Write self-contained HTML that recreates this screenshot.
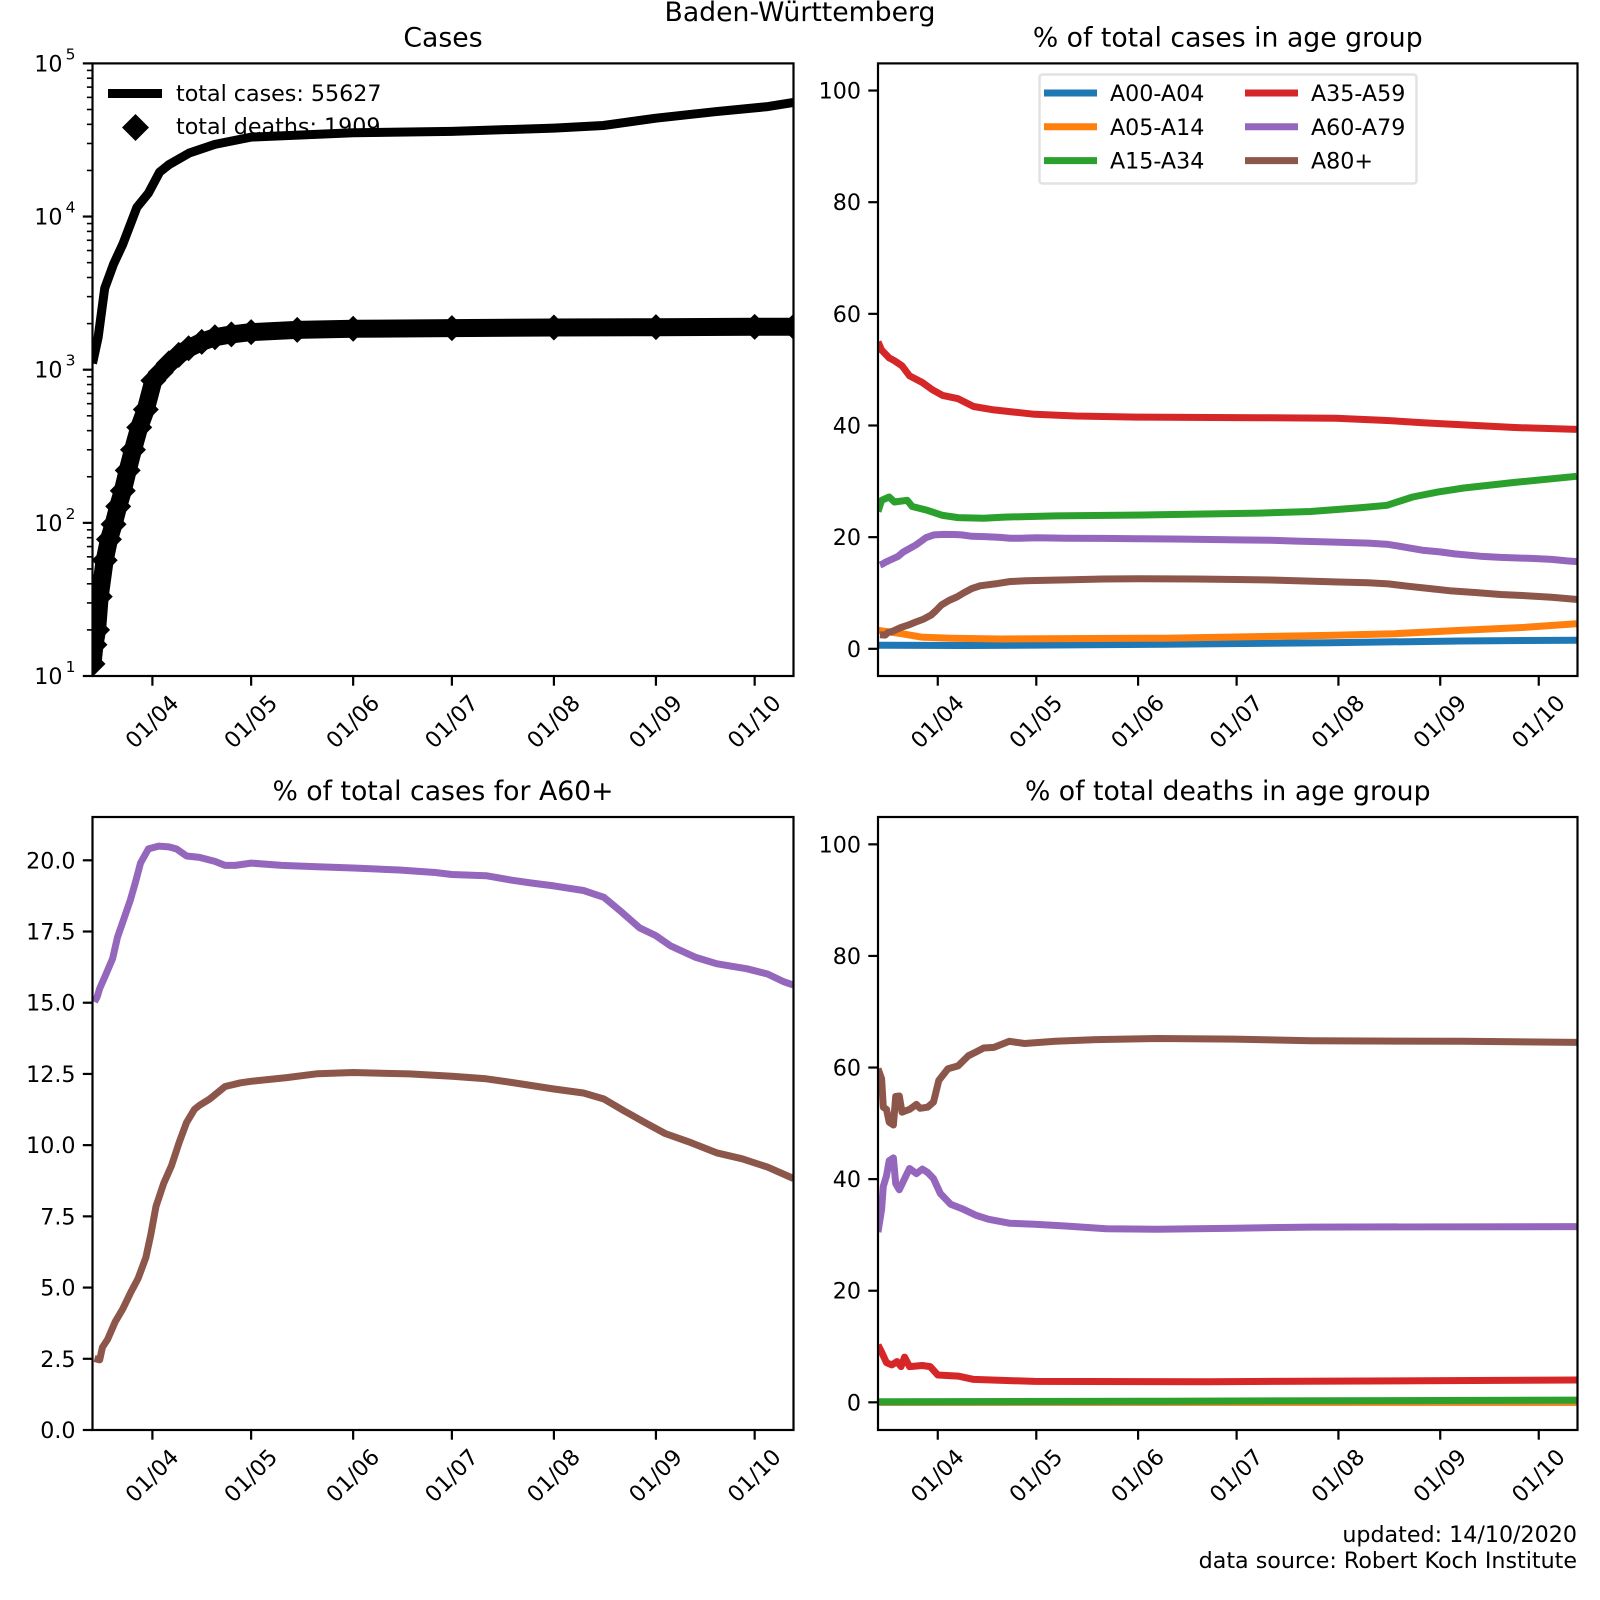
<!DOCTYPE html>
<html><head><meta charset="utf-8"><style>
html,body{margin:0;padding:0;background:#fff;}
svg{display:block;font-family:"DejaVu Sans","Liberation Sans",sans-serif;}
</style></head><body>
<svg id="fig" width="1600" height="1600" viewBox="0 0 1600 1600" xmlns="http://www.w3.org/2000/svg">
<rect width="1600" height="1600" fill="#fff"/>
<text x="800" y="21" font-size="26.7" text-anchor="middle">Baden-Württemberg</text>
<text x="1577" y="1542" font-size="22.2" text-anchor="end">updated: 14/10/2020</text>
<text x="1577" y="1568" font-size="22.2" text-anchor="end">data source: Robert Koch Institute</text>
</svg>
<script>
// ---- data (day index: 0 = 1 March 2020) ----
const monthDays = [31,61,92,122,153,184,214];
const monthLabels = ["01/04","01/05","01/06","01/07","01/08","01/09","01/10"];

const casesDays = [12.8,14.5,16.5,19.2,22,26.3,29.8,33.2,36,42.2,50,61,92,122,153,168,184,202,218,225.8];
const casesVals = [1100,1620,3400,4900,6600,11500,14200,19500,21800,26000,29600,33000,35300,36000,37800,39300,43900,48400,52200,55627];
const deathDays = [12.8,13.4,14.2,15,16.5,17.8,19.2,20.6,22,23.5,25.1,27,29,31.3,33.5,36,39,42,46,50,55,61,75,92,122,153,184,214,225.8];
const deathVals = [12,16,20,33,57,78,98,128,162,220,300,420,550,850,960,1100,1250,1380,1520,1630,1700,1760,1820,1850,1870,1885,1895,1905,1909];

const a60Days = [13.4,14.2,15,16.5,18.9,20.4,22.8,24.3,25.9,27.4,29.8,32.9,36,38.3,41.4,45.3,50,53.1,56.2,61,70.3,81.2,92,106,116.9,122,132.4,140.2,146.4,153,162,168.2,172.8,179,183.9,188.4,196.1,202.4,211.7,217.9,222.6,225.8];
const a60Vals = [15.03,15.2,15.5,15.9,16.55,17.3,18.1,18.6,19.25,19.9,20.4,20.5,20.47,20.4,20.15,20.1,19.96,19.82,19.82,19.9,19.82,19.77,19.73,19.66,19.57,19.5,19.46,19.3,19.2,19.1,18.94,18.7,18.26,17.63,17.36,17.0,16.59,16.37,16.19,16.01,15.75,15.62];
const a80Days = [13.4,15,15.8,17.4,19.7,22,24.3,26.7,29,30.5,32.1,34.4,36.8,39.1,41.4,43.8,45.3,48.4,53.1,57.8,61,71.8,81.2,92,109.1,122,132.4,140.2,153,162,168.2,174.4,180.6,186.8,194.6,202.4,210.2,217.9,225.8];
const a80Vals = [2.51,2.46,2.9,3.18,3.8,4.25,4.8,5.33,6.05,6.86,7.85,8.65,9.28,10.09,10.8,11.26,11.4,11.62,12.06,12.19,12.24,12.37,12.51,12.55,12.5,12.42,12.33,12.2,11.97,11.83,11.62,11.2,10.8,10.41,10.09,9.73,9.52,9.23,8.83];

const a35Days = [12.8,13.9,16.2,17.8,20.1,22.4,26.3,29.4,32.5,37.2,41.9,48.1,54.3,60.5,73,91.6,128.9,152.3,167.8,178.7,191.2,206.7,225.5];
const a35Vals = [55,53.5,52.1,51.6,50.7,48.9,47.7,46.4,45.4,44.8,43.4,42.8,42.4,42.0,41.7,41.5,41.4,41.3,40.9,40.5,40.1,39.65,39.3];
const a15Days = [12.8,13.9,16.2,17.8,21.7,23.2,27.9,32.5,37.2,45,51.2,66.8,97.9,128.9,144.5,160,167.8,175.6,183.4,191.2,206.7,225.5];
const a15Vals = [24.6,26.6,27.2,26.3,26.6,25.5,24.8,23.9,23.5,23.4,23.6,23.8,24.0,24.3,24.6,25.3,25.7,27.2,28.1,28.8,29.8,30.9];
const a05Days = [12.8,20,26,35,50,100,150,170,190,210,225.5];
const a05Vals = [3.3,2.7,2.1,1.9,1.75,1.9,2.4,2.7,3.3,3.85,4.5];
const a00Days = [12.8,16,40,100,150,190,225.5];
const a00Vals = [0.65,0.65,0.6,0.8,1.1,1.4,1.55];

const dA80Days = [12.8,13.9,14.4,15.4,16.2,17.5,18.2,19.3,20.1,22.4,24.5,25.6,27.9,29.7,31.3,34.1,37.2,40.3,42.7,45,48.1,52.8,57.4,66.8,79.2,97.9,121.2,144.5,191.2,225.5];
const dA80Vals = [59.8,58,52.9,52.5,50.2,49.7,54.8,54.9,52,52.5,53.4,52.7,52.9,53.8,57.7,59.8,60.3,62.1,62.8,63.5,63.6,64.7,64.3,64.7,65,65.2,65.1,64.8,64.7,64.5];
const dA60Days = [12.8,13.9,14.4,15.4,16.2,17.5,18.2,19.3,20.9,22.4,24.5,26.3,27.9,29.7,31.8,34.9,38.8,42.7,46.5,52.8,60.5,69.9,82.3,97.9,121.2,144.5,225.5];
const dA60Vals = [30.5,34.6,38.7,40.6,43.3,43.8,39.2,38.1,40.1,41.9,41,41.8,41.2,40.1,37.4,35.5,34.6,33.5,32.8,32.1,31.9,31.6,31.1,31,31.2,31.4,31.5];
const dA35Days = [12.8,13.9,15.4,17,18.6,19.8,20.9,22.4,26.3,28.7,31,37.2,41.9,60.5,113.4,225.5];
const dA35Vals = [10.3,9,7.1,6.7,7.3,6.4,8.1,6.4,6.6,6.4,4.9,4.7,4.1,3.75,3.7,4.0];
const dA15Days = [12.8,100,225.5];
const dA15Vals = [0.1,0.2,0.4];
const dA05Days = [12.8,225.5];
const dA05Vals = [0,0];
const dA00Days = [12.8,225.5];
const dA00Vals = [0,0];

const groupNames = ["A00-A04","A05-A14","A15-A34","A35-A59","A60-A79","A80+"];
const groupColors = ["#1f77b4","#ff7f0e","#2ca02c","#d62728","#9467bd","#8c564b"];

// ---- helpers ----
const NS = "http://www.w3.org/2000/svg";
const svg = document.getElementById("fig");
function mk(tag, attrs, parent){
  const e = document.createElementNS(NS, tag);
  for (const k in attrs) e.setAttribute(k, attrs[k]);
  (parent||svg).appendChild(e);
  return e;
}
const XMIN = 12.8, XMAX = 225.8;
function makeAxes(id, x0, x1, y0, y1, ymin, ymax, log){
  const ax = {x0,x1,y0,y1,ymin,ymax,log};
  ax.sx = d => x0 + (d - XMIN) / (XMAX - XMIN) * (x1 - x0);
  ax.sy = v => {
    const t = log ? Math.log10(v) : v;
    return y1 - (t - ymin) / (ymax - ymin) * (y1 - y0);
  };
  const cp = mk("clipPath", {id: "clip-" + id});
  mk("rect", {x: x0, y: y0, width: x1 - x0, height: y1 - y0}, cp);
  ax.g = mk("g", {"clip-path": "url(#clip-" + id + ")"});
  
  
  return ax;
}
function drawFrame(ax, id){
  const f = mk("rect", {x: ax.x0, y: ax.y0, width: ax.x1 - ax.x0, height: ax.y1 - ax.y0, fill: "none", stroke: "#000", "stroke-width": 2.2});
  
  
  for (let i = 0; i < monthDays.length; i++) {
    const x = ax.sx(monthDays[i]);
    const t = mk("line", {x1: x, x2: x, y1: ax.y1, y2: ax.y1 + 9.7, stroke: "#000", "stroke-width": 2.2});
    
    
    const cy = ax.y1 + 46;
    const lb = mk("text", {x: x, y: cy, "font-size": 22.2, "text-anchor": "middle", "dominant-baseline": "central", transform: "rotate(-45 " + x + " " + cy + ")"});
    lb.textContent = monthLabels[i];
    
    
  }
}
function yTicks(ax, id, vals, labels){
  for (let i = 0; i < vals.length; i++) {
    const y = ax.sy(vals[i]);
    const t = mk("line", {x1: ax.x0 - 9.7, x2: ax.x0, y1: y, y2: y, stroke: "#000", "stroke-width": 2.2});
    
    
    const lb = mk("text", {x: ax.x0 - 17, y: y + 8, "font-size": 22.2, "text-anchor": "end"});
    lb.textContent = labels[i];
    
    
  }
}
function line(ax, days, vals, color, w, name){
  const pts = days.map((d, i) => ax.sx(d).toFixed(1) + "," + ax.sy(vals[i]).toFixed(1)).join(" ");
  const p = mk("polyline", {points: pts, fill: "none", stroke: color, "stroke-width": w, "stroke-linejoin": "round", "stroke-linecap": "butt"}, ax.g);
  
  
}
function title(ax, txt, name){
  const t = mk("text", {x: (ax.x0 + ax.x1) / 2, y: ax.y0 - 17, "font-size": 26.7, "text-anchor": "middle"});
  t.textContent = txt;
  
  
}

// ---- panel 1: cases (log) ----
const A1 = makeAxes("cases-panel", 92.5, 793.5, 63.4, 676, 1, 5, true);
line(A1, deathDays, deathVals, "#000", 18, "deaths-series");
for (let i = 0; i < deathDays.length; i++) {
  const x = A1.sx(deathDays[i]), y = A1.sy(deathVals[i]);
  const m = mk("polygon", {points: `${x},${y-13} ${x+13},${y} ${x},${y+13} ${x-13},${y}`, fill: "#000"}, A1.g);
  
  
}
line(A1, casesDays, casesVals, "#000", 9, "cases-series");
drawFrame(A1, "cases-panel");
for (let e = 1; e <= 5; e++) {
  const y = A1.sy(Math.pow(10, e));
  const t = mk("line", {x1: A1.x0 - 9.7, x2: A1.x0, y1: y, y2: y, stroke: "#000", "stroke-width": 2.2});
  
  
  const lb = mk("text", {x: A1.x0 - 30, y: y + 8, "font-size": 22.2, "text-anchor": "end"});
  lb.textContent = "10";
  
  
  const sp = mk("text", {x: A1.x0 - 17, y: y - 4, "font-size": 15.5, "text-anchor": "end"});
  sp.textContent = String(e);
  
  
  if (e < 5) for (let k = 2; k <= 9; k++) {
    const ym = A1.sy(k * Math.pow(10, e));
    const mt = mk("line", {x1: A1.x0 - 5.6, x2: A1.x0, y1: ym, y2: ym, stroke: "#000", "stroke-width": 1.6});
    
    
  }
}
title(A1, "Cases", "cases-title");
{
  const l1 = mk("line", {x1: 108, x2: 162, y1: 93.5, y2: 93.5, stroke: "#000", "stroke-width": 9});
  
  
  const t1 = mk("text", {x: 176, y: 101, "font-size": 22.2});
  t1.textContent = "total cases: 55627";
  
  
  const d = mk("polygon", {points: "135.5,114 149,127.5 135.5,141 122,127.5", fill: "#000"});
  
  
  const t2 = mk("text", {x: 176, y: 134, "font-size": 22.2});
  t2.textContent = "total deaths: 1909";
  
  
  svg.appendChild(A1.g);
}

// ---- panel 2: % total cases in age group ----
const A2 = makeAxes("age-cases-panel", 878, 1577.5, 63.4, 676, -4.87, 104.86, false);
const caseGroups = [[a00Days,a00Vals],[a05Days,a05Vals],[a15Days,a15Vals],[a35Days,a35Vals],[a60Days,a60Vals],[a80Days,a80Vals]];
caseGroups.forEach((g, i) => line(A2, g[0], g[1], groupColors[i], 7, "cases-" + groupNames[i].toLowerCase()));
drawFrame(A2, "age-cases-panel");
yTicks(A2, "age-cases", [0,20,40,60,80,100], ["0","20","40","60","80","100"]);
title(A2, "% of total cases in age group", "age-cases-title");
{
  const lg = mk("rect", {x: 1039.5, y: 74.5, width: 377, height: 109, rx: 3, fill: "#fff", "fill-opacity": 0.8, stroke: "#e2e2e2", "stroke-width": 2.5});
  
  
  for (let i = 0; i < 6; i++) {
    const col = Math.floor(i / 3), row = i % 3;
    const lx = col ? 1245 : 1044, tx = col ? 1311 : 1110, ly = 93 + row * 33.8;
    const sw = mk("line", {x1: lx, x2: lx + 53, y1: ly, y2: ly, stroke: groupColors[i], "stroke-width": 7});
    
    
    const t = mk("text", {x: tx, y: ly + 8, "font-size": 22.2});
    t.textContent = groupNames[i];
    
    
  }
}

// ---- panel 3: % of total cases for A60+ ----
const A3 = makeAxes("a60-panel", 92.5, 793.5, 817, 1430, 0, 21.52, false);
line(A3, a60Days, a60Vals, groupColors[4], 7, "a60-a79-share");
line(A3, a80Days, a80Vals, groupColors[5], 7, "a80-share");
drawFrame(A3, "a60-panel");
yTicks(A3, "a60", [0,2.5,5,7.5,10,12.5,15,17.5,20], ["0.0","2.5","5.0","7.5","10.0","12.5","15.0","17.5","20.0"]);
title(A3, "% of total cases for A60+", "a60-title");

// ---- panel 4: % of total deaths in age group ----
const A4 = makeAxes("age-deaths-panel", 878, 1577.5, 817, 1430, -4.96, 104.9, false);
const deathGroups = [[dA00Days,dA00Vals],[dA05Days,dA05Vals],[dA15Days,dA15Vals],[dA35Days,dA35Vals],[dA60Days,dA60Vals],[dA80Days,dA80Vals]];
deathGroups.forEach((g, i) => line(A4, g[0], g[1], groupColors[i], 7, "deaths-" + groupNames[i].toLowerCase()));
drawFrame(A4, "age-deaths-panel");
yTicks(A4, "age-deaths", [0,20,40,60,80,100], ["0","20","40","60","80","100"]);
title(A4, "% of total deaths in age group", "age-deaths-title");
</script>
</body></html>
